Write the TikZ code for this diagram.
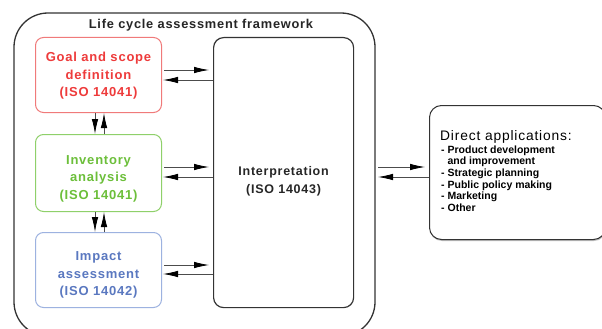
\documentclass[tikz,border=0pt]{standalone}
\usepackage{fontspec}
\setmainfont{Liberation Sans}
\newfontfamily\labf[LetterSpace=6]{Liberation Sans}
\newfontfamily\listf{Liberation Sans}
\usetikzlibrary{arrows.meta,shadows}
\definecolor{goalred}{HTML}{EE3B3B}
\definecolor{goalbd}{HTML}{F07A7A}
\definecolor{invgreen}{HTML}{6CBF3A}
\definecolor{invbd}{HTML}{8FD06A}
\definecolor{impblue}{HTML}{5A78C0}
\definecolor{impbd}{HTML}{9DB2E0}
\definecolor{framegray}{HTML}{333333}
\tikzset{
  x=1pt, y=1pt,
  stagebox/.style={draw=#1, line width=1pt, rounded corners=8pt, minimum width=126pt, minimum height=75pt, anchor=north west, inner sep=0pt},
  stagetext/.style={text=#1, align=center, font={\labf\bfseries\fontsize{13}{17.5}\selectfont}},
  flowline/.style={draw=black!70, line width=0.8pt, -{Latex[length=15pt,width=6.5pt,color=black]}},
}
\begin{document}
\begin{tikzpicture}
\clip (0,0) rectangle (602,-329);
\fill[white] (0,0) rectangle (602,-329);
% outer frame
\draw[framegray, line width=1.3pt, rounded corners=34pt] (14,-13) rectangle (375,-336);
\node[font={\labf\bfseries\fontsize{12.8}{15}\selectfont}, text=black!85] (title) at (201,-25) {Life cycle assessment framework};
% stage boxes
\node[stagebox=goalbd, label={[name=goaltext, yshift=-1pt, stagetext=goalred]center:Goal and scope\\definition\\(ISO 14041)}] (goal) at (35,-37) {};
\node[stagebox=invbd, minimum height=77pt, label={[name=invtext, yshift=-5.5pt, stagetext=invgreen]center:Inventory\\analysis\\(ISO 14041)}] (inv) at (35,-134) {};
\node[stagebox=impbd, label={[name=imptext, yshift=-5pt, stagetext=impblue]center:Impact\\assessment\\(ISO 14042)}] (imp) at (35,-232) {};
% interpretation
\node[draw=framegray, line width=1.2pt, rounded corners=10pt, minimum width=140pt, minimum height=270pt, anchor=north west, label={[name=interptext, yshift=-8.5pt, align=center, font={\labf\bfseries\fontsize{12.5}{18}\selectfont}, text=black!85]center:Interpretation\\(ISO 14043)}] (interp) at (213,-37) {};
% direct applications
\node[draw=framegray, line width=1pt, rounded corners=12pt, minimum width=176pt, minimum height=134pt, anchor=north west, drop shadow={shadow xshift=0.5pt, shadow yshift=-1.5pt, opacity=0.5}, fill=white] (direct) at (429,-105) {};
\node[anchor=north west, font={\labf\fontsize{13.8}{14}\selectfont}, inner sep=0pt] (dtitle) at (440,-130) {Direct applications:};
\node[anchor=north west, align=left, font={\listf\bfseries\fontsize{10.5}{11.6}\selectfont}, inner sep=0pt] (dlist) at (441,-145.5)
 {- Product development\\\phantom{- }and improvement\\- Strategic planning\\- Public policy making\\- Marketing\\- Other};
% horizontal arrows
\foreach \b/\ya/\yb in {goal/70/80, inv/167/177, imp/265/274}{
  \coordinate (\b-o) at (\b.east |- 0,-\ya);
  \coordinate (\b-i) at (\b.east |- 0,-\yb);
  \draw[flowline] ([xshift=2pt]\b-o) -- ([xshift=-4pt]interp.west |- \b-o);
  \draw[flowline] (interp.west |- \b-i) -- ([xshift=1pt]\b-i);
}
% vertical arrows
\draw[flowline] (goal.south -| 95,0) -- (inv.north -| 95,0);
\draw[flowline] (inv.north -| 104,0) -- (goal.south -| 104,0);
\draw[flowline] (inv.south -| 95,0) -- (imp.north -| 95,0);
\draw[flowline] (imp.north -| 104,0) -- (inv.south -| 104,0);
% right arrows
\coordinate (fr1) at (378,-167);
\coordinate (fr2) at (378,-177);
\draw[flowline] (fr1) -- ([xshift=-4pt]direct.west |- fr1);
\draw[flowline] (direct.west |- fr2) -- (fr2);
\end{tikzpicture}
\end{document}
